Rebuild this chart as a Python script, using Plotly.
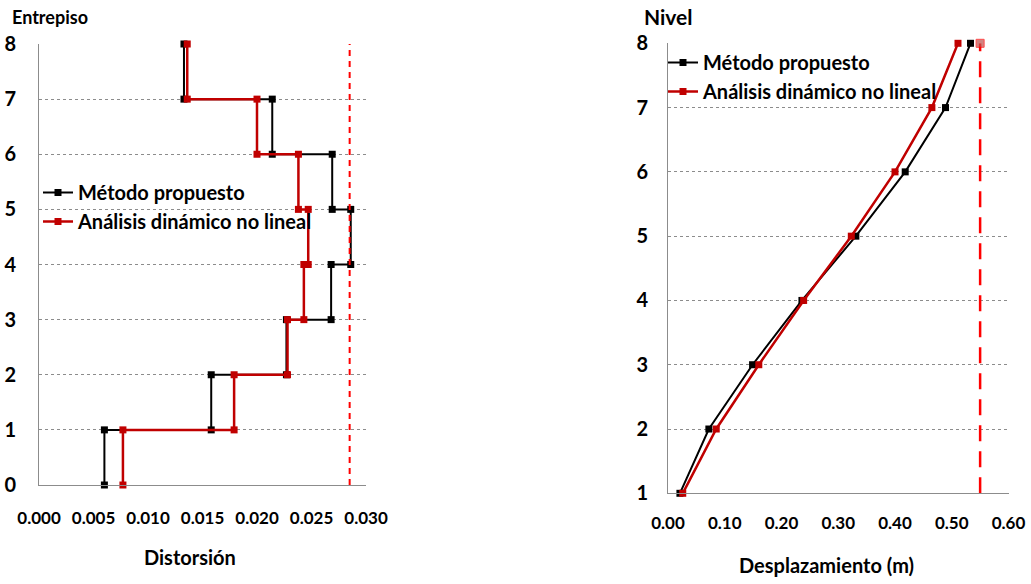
import plotly.graph_objects as go

# ---------------- data ----------------
stories = [1, 2, 3, 4, 5, 6, 7, 8]
drift_metodo = [0.0060, 0.0158, 0.0227, 0.0268, 0.0286, 0.0269, 0.0214, 0.0133]
drift_adnl = [0.0077, 0.0179, 0.0228, 0.0243, 0.0247, 0.0238, 0.0200, 0.0136]
drift_limit = 0.0285

levels = [1, 2, 3, 4, 5, 6, 7, 8]
disp_metodo = [0.021, 0.072, 0.149, 0.236, 0.331, 0.418, 0.489, 0.533]
disp_adnl = [0.026, 0.085, 0.160, 0.239, 0.323, 0.400, 0.465, 0.511]
disp_limit = 0.55

name_a = "Método propuesto"
name_b = "Análisis dinámico no lineal"

FONT = "Lato, Roboto, sans-serif"
BLACK = "#000000"
RED = "#C00000"
LIM = "#FF0000"


def steps(drifts):
    xs, ys = [], []
    for s, d in zip(stories, drifts):
        xs += [d, d]
        ys += [s - 1, s]
    return xs, ys


W, H = 1031, 584
fig = go.Figure()

xa, ya = steps(drift_metodo)
xb, yb = steps(drift_adnl)
fig.add_trace(go.Scatter(x=xa, y=ya, mode="lines+markers", name=name_a,
                         line=dict(color=BLACK, width=2),
                         marker=dict(symbol="square", size=7, color=BLACK),
                         xaxis="x", yaxis="y", legend="legend", cliponaxis=False))
fig.add_trace(go.Scatter(x=xb, y=yb, mode="lines+markers", name=name_b,
                         line=dict(color=RED, width=2.5),
                         marker=dict(symbol="square", size=7, color=RED),
                         xaxis="x", yaxis="y", legend="legend", cliponaxis=False))
fig.add_trace(go.Scatter(x=[drift_limit, drift_limit], y=[0, 8], mode="lines",
                         line=dict(color=LIM, width=2, dash="6px,5px"),
                         showlegend=False, xaxis="x", yaxis="y"))

fig.add_trace(go.Scatter(x=disp_metodo, y=levels, mode="lines+markers", name=name_a,
                         line=dict(color=BLACK, width=2),
                         marker=dict(symbol="square", size=7, color=BLACK),
                         xaxis="x2", yaxis="y2", legend="legend2", cliponaxis=False))
fig.add_trace(go.Scatter(x=disp_adnl, y=levels, mode="lines+markers", name=name_b,
                         line=dict(color=RED, width=2.5),
                         marker=dict(symbol="square", size=7, color=RED),
                         xaxis="x2", yaxis="y2", legend="legend2", cliponaxis=False))
fig.add_trace(go.Scatter(x=[disp_limit, disp_limit], y=[1, 8], mode="lines+markers",
                         line=dict(color=LIM, width=2.5, dash="16px,10px"),
                         marker=dict(symbol="square", size=[0, 8], color="#C0504D"),
                         showlegend=False, xaxis="x2", yaxis="y2", cliponaxis=False))


def px_x(a, b):
    return [a / W, b / W]


def px_y(top, bottom):
    return [(H - bottom) / H, (H - top) / H]


grid = dict(showgrid=True, gridcolor="#8c8c8c", griddash="dot", gridwidth=1)
tickfont_y = dict(family=FONT, size=20, color="#000", weight="bold")
tickfont_x = dict(family=FONT, size=17, color="#000", weight="bold")

common_x = dict(showgrid=False, zeroline=False, showline=True, linecolor="#8c8c8c",
                linewidth=1, ticks="", tickfont=tickfont_x, automargin=False, tickangle=0)
common_y = dict(zeroline=False, showline=True, linecolor="#8c8c8c", linewidth=1, ticks="",
                tickfont=tickfont_y, automargin=False, **grid)

legend_font = dict(family=FONT, size=20, color="#000", weight="bold")

fig.update_layout(
    width=W, height=H,
    margin=dict(l=0, r=0, t=0, b=0),
    paper_bgcolor="white", plot_bgcolor="white",
    font=dict(family=FONT, color="#000"),
    xaxis=dict(domain=px_x(39, 366), range=[0, 0.030],
               tickvals=[0, 0.005, 0.01, 0.015, 0.02, 0.025, 0.03], tickformat=".3f",
               ticklabelstandoff=18, anchor="y", **common_x),
    yaxis=dict(domain=px_y(44, 485), range=[0, 8], dtick=1, ticklabelstandoff=18,
               anchor="x", **common_y),
    xaxis2=dict(domain=px_x(668, 1008.5), range=[0, 0.6], dtick=0.1, tickformat=".2f",
                ticklabelstandoff=14, anchor="y2", **common_x),
    yaxis2=dict(domain=px_y(43.3, 493.3), range=[1, 8], dtick=1, ticklabelstandoff=15,
                anchor="x2", **common_y),
    legend=dict(x=38 / W, y=(H - 173) / H, xanchor="left", yanchor="top",
                bgcolor="rgba(0,0,0,0)", itemwidth=30, tracegroupgap=0, font=legend_font),
    legend2=dict(x=663 / W, y=(H - 43) / H, xanchor="left", yanchor="top",
                 bgcolor="rgba(0,0,0,0)", itemwidth=30, tracegroupgap=0, font=legend_font),
    showlegend=True,
)

fig.add_annotation(text="Entrepiso", x=10 / W, y=(H - 17) / H, xref="paper", yref="paper",
                   xanchor="left", yanchor="middle", showarrow=False,
                   font=dict(family=FONT, size=18, color="#000", weight="bold"))
fig.add_annotation(text="Nivel", x=642 / W, y=(H - 16) / H, xref="paper", yref="paper",
                   xanchor="left", yanchor="middle", showarrow=False,
                   font=dict(family=FONT, size=21, color="#000", weight="bold"))
fig.add_annotation(text="Distorsión", x=190 / W, y=(H - 557) / H, xref="paper", yref="paper",
                   xanchor="center", yanchor="middle", showarrow=False,
                   font=dict(family=FONT, size=20, color="#000", weight="bold"))
fig.add_annotation(text="Desplazamiento (m)", x=826 / W, y=(H - 565) / H, xref="paper",
                   yref="paper", xanchor="center", yanchor="middle", showarrow=False,
                   font=dict(family=FONT, size=20, color="#000", weight="bold"))

fig.write_html("out.html")
